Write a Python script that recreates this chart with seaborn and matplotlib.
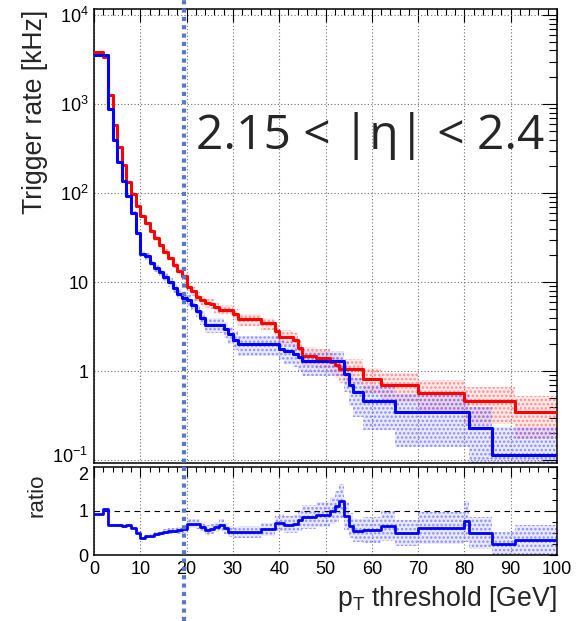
import matplotlib
matplotlib.use("Agg")
import numpy as np
import pandas as pd
import matplotlib.pyplot as plt
import matplotlib.transforms as mtransforms
from matplotlib.lines import Line2D
from matplotlib.ticker import FixedLocator, MultipleLocator, NullFormatter, FixedFormatter
import seaborn as sns

# ---------------- data ----------------
bin_edges = list(range(0, 32)) + [36, 39, 40, 41, 43, 44, 45, 48, 51, 52, 53, 54,
                                  55, 56, 58, 62, 65, 70, 80, 81, 86, 91, 100]

red_rate = [3800, 3800, 3400, 1270, 575, 326, 207, 135, 99, 71,
            56, 46, 38, 31, 26, 22, 18.5, 15.5, 13.3, 11.6,
            8.9, 7.9, 6.9, 6.3, 5.8, 5.7, 5.2, 4.9, 4.9, 4.9,
            4.4,
            3.85, 3.45, 2.8, 2.45, 2.45, 2.25, 1.83, 1.5, 1.42, 1.28, 1.17, 1.05,
            1.05, 1.05, 1.05, 0.82, 0.70, 0.70, 0.575, 0.46, 0.46, 0.46, 0.35]

blue_rate = [3550, 3550, 3550, 870, 395, 221, 137, 92, 60, 36,
             21, 19.5, 16.5, 14.5, 13, 11.5, 10, 8.6, 7.4, 6.7,
             6.3, 5.6, 4.8, 4.0, 3.3, 3.3, 3.3, 3.3, 2.95, 2.6,
             2.27,
             2.0, 2.0, 2.0, 1.8, 1.68, 1.57, 1.44, 1.29, 1.29, 1.29, 1.29, 1.29,
             0.93, 0.70, 0.58, 0.46, 0.46, 0.35, 0.35, 0.35, 0.23, 0.115, 0.115]

red_relerr = [0.005, 0.005, 0.005, 0.008, 0.013, 0.017, 0.021, 0.026, 0.030, 0.036,
              0.040, 0.044, 0.049, 0.054, 0.059, 0.064, 0.070, 0.076, 0.082, 0.088,
              0.10, 0.107, 0.114, 0.12, 0.125, 0.126, 0.132, 0.136, 0.136, 0.136,
              0.143,
              0.153, 0.162, 0.179, 0.192, 0.192, 0.20, 0.222, 0.245, 0.252, 0.265, 0.277, 0.293,
              0.293, 0.293, 0.293, 0.331, 0.359, 0.359, 0.396, 0.442, 0.442, 0.442, 0.507]

blue_relerr = [0.006, 0.006, 0.006, 0.012, 0.018, 0.024, 0.030, 0.037, 0.046, 0.059,
               0.077, 0.080, 0.087, 0.093, 0.098, 0.105, 0.112, 0.121, 0.130, 0.137,
               0.141, 0.150, 0.162, 0.177, 0.195, 0.195, 0.195, 0.195, 0.207, 0.220,
               0.236,
               0.251, 0.251, 0.251, 0.265, 0.274, 0.283, 0.296, 0.313, 0.313, 0.313, 0.313, 0.313,
               0.368, 0.424, 0.466, 0.523, 0.523, 0.60, 0.60, 0.60, 0.74, 1.05, 1.05]

threshold_line = 19.5
region_text = "2.15 < |η| < 2.4"

y_ticks = [0.1, 1, 10, 100, 1000, 10000]
y_ticklabels = [r"$10^{-1}$", "1", "10", r"$10^{2}$", r"$10^{3}$", r"$10^{4}$"]
x_ticks = list(range(0, 101, 10))
ratio_ticks = [0, 1, 2]

# ---------------- style ----------------
sns.set_style("white")
plt.rcParams["font.family"] = ["Liberation Sans", "DejaVu Sans"]
plt.rcParams.update({
    "mathtext.fontset": "custom",
    "mathtext.rm": "Liberation Sans",
    "mathtext.it": "Liberation Sans:italic",
    "mathtext.bf": "Liberation Sans:bold",
    "hatch.linewidth": 1.2,
    "axes.edgecolor": "black",
    "axes.linewidth": 1.1,
    "xtick.color": "black",
    "ytick.color": "black",
})

W, H = 581, 621
fig = plt.figure(figsize=(W / 100, H / 100), dpi=100)


def box(x0, y0, x1, y1):
    return [x0 / W, 1 - y1 / H, (x1 - x0) / W, (y1 - y0) / H]


ax = fig.add_axes(box(94, 9.3, 557, 462.7))
ax.set_zorder(1)
cover = fig.add_axes(box(0, 464, W, H))
cover.set_zorder(2)
cover.set_xticks([]); cover.set_yticks([])
for s in cover.spines.values():
    s.set_visible(False)
cover.set_facecolor("white")
rax = fig.add_axes(box(94, 466.7, 557, 555))
rax.set_zorder(3)

edges = np.array(bin_edges, dtype=float)
red = np.array(red_rate + [red_rate[-1]], dtype=float)
blue = np.array(blue_rate + [blue_rate[-1]], dtype=float)
rerr = np.array(red_relerr + [red_relerr[-1]])
berr = np.array(blue_relerr + [blue_relerr[-1]])

ax.set_yscale("log")

# error bands
ax.fill_between(edges, np.clip(red * (1 - rerr), 1e-3, None), red * (1 + rerr), step="post",
                facecolor=(1, 0.3, 0.3, 0.12), edgecolor=(1, 0.45, 0.45, 0.75),
                hatch="....", linewidth=0, zorder=2)
ax.fill_between(edges, np.clip(blue * (1 - berr), 1e-3, None), blue * (1 + berr), step="post",
                facecolor=(0.3, 0.3, 1, 0.12), edgecolor=(0.45, 0.45, 1, 0.75),
                hatch="....", linewidth=0, zorder=2)

df_red = pd.DataFrame({"pt": edges, "rate": red})
df_blue = pd.DataFrame({"pt": edges, "rate": blue})
sns.lineplot(data=df_red, x="pt", y="rate", ax=ax, color="#ff0000", lw=2.2,
             drawstyle="steps-post", estimator=None, sort=False, zorder=4)
sns.lineplot(data=df_blue, x="pt", y="rate", ax=ax, color="#0000ff", lw=2.2,
             drawstyle="steps-post", estimator=None, sort=False, zorder=5)

ax.set_xlim(0, 100)
ax.set_ylim(0.094, 11600)
ax.set_xlabel("")
ax.set_ylabel("Trigger rate [kHz]", fontsize=19.2, loc="top")
ax.yaxis.set_label_coords(-0.1, 1.0)

ax.yaxis.set_major_locator(FixedLocator(y_ticks))
ax.yaxis.set_major_formatter(FixedFormatter(y_ticklabels))
minor = [m * 10.0 ** d for d in range(-2, 5) for m in range(2, 10)]
ax.yaxis.set_minor_locator(FixedLocator(minor))
ax.yaxis.set_minor_formatter(NullFormatter())
ax.xaxis.set_major_locator(FixedLocator(x_ticks))
ax.xaxis.set_minor_locator(MultipleLocator(2))
ax.tick_params(axis="both", which="both", direction="in", top=True, right=True,
               labelbottom=False, width=0.8, labelsize=13, pad=4)
ax.tick_params(axis="y", which="major", length=11)
ax.tick_params(axis="y", which="minor", length=5.5)
ax.tick_params(axis="x", which="major", length=9)
ax.tick_params(axis="x", which="minor", length=4.5)
ax.grid(True, which="major", color="#707070", linestyle=(0, (1, 2)), linewidth=0.8)

ax.text(0.596, 0.72, region_text, transform=ax.transAxes, fontsize=34.5,
        family=["Open Sans", "DejaVu Sans"], ha="center", va="center", zorder=6)

# ratio panel
ratio = blue / red
rax.fill_between(edges, np.clip(ratio * (1 - berr), 0, None), ratio * (1 + berr), step="post",
                 facecolor=(0.3, 0.3, 1, 0.12), edgecolor=(0.45, 0.45, 1, 0.75),
                 hatch="....", linewidth=0, zorder=2)
df_ratio = pd.DataFrame({"pt": edges, "ratio": ratio})
sns.lineplot(data=df_ratio, x="pt", y="ratio", ax=rax, color="#0000ff", lw=2.0,
             drawstyle="steps-post", estimator=None, sort=False, zorder=5)
rax.axhline(1, color="black", linestyle=(0, (5, 4)), linewidth=0.8, zorder=3)
rax.set_xlim(0, 100)
rax.set_ylim(0, 2)
rax.xaxis.set_major_locator(FixedLocator(x_ticks))
rax.xaxis.set_minor_locator(MultipleLocator(2))
rax.yaxis.set_major_locator(FixedLocator(ratio_ticks))
rax.yaxis.set_minor_locator(MultipleLocator(0.25))
rax.tick_params(axis="both", which="both", direction="in", top=True, right=True,
                width=0.8, labelsize=13, pad=4)
rax.tick_params(axis="x", which="major", length=7)
rax.tick_params(axis="x", which="minor", length=3.5)
rax.tick_params(axis="y", which="major", length=6)
rax.tick_params(axis="y", which="minor", length=3.5)
rax.grid(True, axis="x", which="major", color="#707070", linestyle=(0, (1, 2)), linewidth=0.8)
rax.set_xlabel(r"p$_{\mathrm{T}}$ threshold [GeV]", fontsize=19.2, loc="right")
rax.xaxis.set_label_coords(1.0, -0.33)
rax.set_ylabel("ratio", fontsize=16, loc="top")
rax.yaxis.set_label_coords(-0.1, 0.92)

# keep the two labels that meet at the pad boundary from colliding
fig.canvas.draw()
lbl = ax.get_yticklabels()[0]
lbl.set_transform(lbl.get_transform() +
                  mtransforms.ScaledTranslation(0, 5 / 100, fig.dpi_scale_trans))
rax.get_yticklabels()[-1].set_va("top")

# vertical dotted threshold line across the whole figure
trans = mtransforms.blended_transform_factory(ax.transData, fig.transFigure)
fig.add_artist(Line2D([threshold_line, threshold_line], [0, 1], transform=trans,
                      color="#5a78c8", linewidth=3, linestyle=(0, (1, 1)), zorder=10))

fig.savefig("out.png", dpi=100)
